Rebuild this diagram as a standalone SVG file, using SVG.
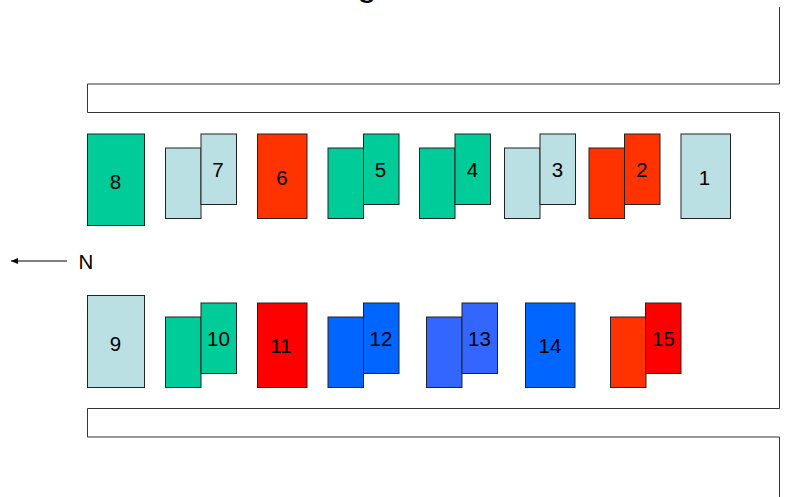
<svg xmlns="http://www.w3.org/2000/svg" width="795" height="497" viewBox="0 0 795 497">
<style>
.o{fill:none;stroke:#333;stroke-width:1}
.b{stroke:#222;stroke-width:1}
.g{fill:#00cc99}.l{fill:#bbe0e3}.r{fill:#ff3300}.e{fill:#ff0000}.u{fill:#0066ff}.v{fill:#3366ff}
text{font-family:"Liberation Sans",Arial,sans-serif;font-size:20.5px;fill:#000;text-anchor:middle}
</style>
<defs><marker id="a" markerWidth="8" markerHeight="6" refX="7" refY="3" orient="auto" markerUnits="userSpaceOnUse"><path d="M0 0L7 3L0 6Z" fill="#000"/></marker></defs>
<text x="367" y="-4" style="font-size:34px">g</text>
<g id="road">
<path class="o" d="M779.5 7V84H87.5V112.500H779.500V408.500H87.500V437H779.500V497"/>
</g>
<g id="connectors"><line x1="67" y1="261" x2="11" y2="261" stroke="#000" stroke-width="1" marker-end="url(#a)"/></g>
<text x="86" y="269">N</text>
<g id="n8"><rect class="b g" x="87.500" y="134" width="57" height="91.500"/><text x="115.500" y="189">8</text></g>
<g id="n7"><rect class="b l" x="165.500" y="148" width="35.500" height="70.500"/><rect class="b l" x="201" y="134" width="35.500" height="70.500"/><text x="218" y="177">7</text></g>
<g id="n6"><rect class="b r" x="257.500" y="134" width="49.500" height="84.500"/><text x="282" y="184.500">6</text></g>
<g id="n5"><rect class="b g" x="328" y="148" width="35.500" height="70.500"/><rect class="b g" x="363.500" y="134" width="35.500" height="70.500"/><text x="380.500" y="177">5</text></g>
<g id="n4"><rect class="b g" x="419.500" y="148" width="35.500" height="70.500"/><rect class="b g" x="455" y="134" width="35.500" height="70.500"/><text x="472.500" y="177">4</text></g>
<g id="n3"><rect class="b l" x="504.500" y="148" width="35.500" height="70.500"/><rect class="b l" x="540" y="134" width="35.500" height="70.500"/><text x="557.500" y="177">3</text></g>
<g id="n2"><rect class="b r" x="589" y="148" width="35.500" height="70.500"/><rect class="b r" x="624.500" y="134" width="35.500" height="70.500"/><text x="642" y="177">2</text></g>
<g id="n1"><rect class="b l" x="681" y="134" width="49.500" height="84.500"/><text x="704.500" y="184.500">1</text></g>
<g id="n9"><rect class="b l" x="87.500" y="295.500" width="57" height="92"/><text x="115.500" y="350.500">9</text></g>
<g id="n10"><rect class="b g" x="165.500" y="317" width="35.500" height="70.500"/><rect class="b g" x="201" y="303" width="35.500" height="70.500"/><text x="218.500" y="346">10</text></g>
<g id="n11"><rect class="b e" x="257.500" y="303" width="49.500" height="84.500"/><text x="281" y="353">11</text></g>
<g id="n12"><rect class="b u" x="328" y="317" width="35.500" height="70.500"/><rect class="b u" x="363.500" y="303" width="35.500" height="70.500"/><text x="381" y="346">12</text></g>
<g id="n13"><rect class="b v" x="426.500" y="317" width="35.500" height="70.500"/><rect class="b v" x="462" y="303" width="35.500" height="70.500"/><text x="479.500" y="346">13</text></g>
<g id="n14"><rect class="b u" x="525.500" y="303" width="49.500" height="84.500"/><text x="550" y="353">14</text></g>
<g id="n15"><rect class="b r" x="610.500" y="317" width="35.500" height="70.500"/><rect class="b e" x="645.500" y="303" width="35.500" height="70.500"/><text x="663.500" y="346">15</text></g>
</svg>
